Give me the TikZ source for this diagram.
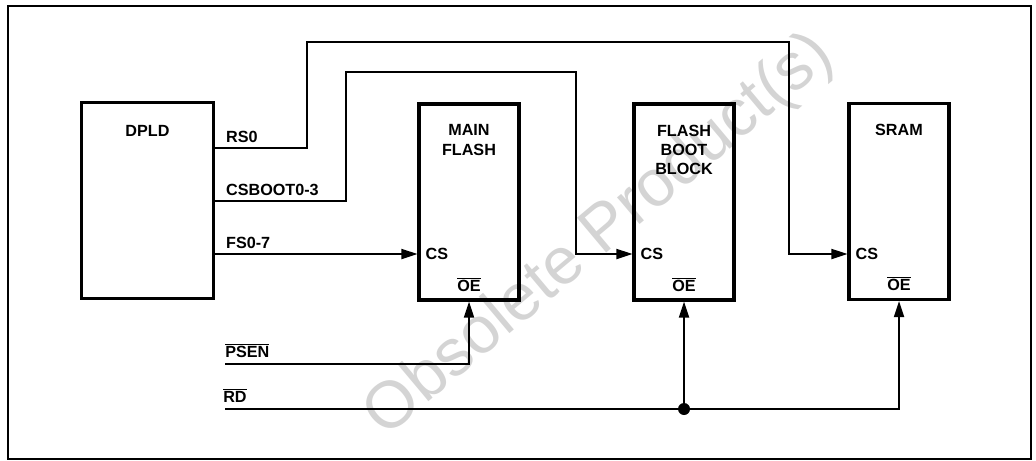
\documentclass[tikz,border=0pt]{standalone}
\usepackage{fontspec}
\setmainfont{Liberation Sans}
\usepackage{tikz}
\usetikzlibrary{arrows.meta, positioning, calc}
\definecolor{markgray}{RGB}{212, 212, 212}

\begin{document}
\begin{tikzpicture}[
          x=0.025cm, y=-0.025cm,
          every node/.style={font=\fontsize{11.5}{13.8}\selectfont\bfseries},
          chipbox/.style={rectangle, draw=black, line width=2.2pt, minimum width=2.5cm, minimum height=4.9cm, inner sep=0pt},
          chiptitle/.style={inner sep=0pt, align=center},
          pinlabel/.style={inner sep=0pt},
          wire/.style={line width=1.3pt},
          arrowwire/.style={wire, -{Triangle[length=0.4cm, width=0.25cm]}},
          watermark/.style={font=\fontsize{47}{47}\selectfont, text=markgray, rotate=40, inner sep=0pt}
        ]
          \useasboundingbox (0,0) rectangle (1036,460);

          % Watermark
          \node[watermark] (wm) at (600,236) {Obsolete Product(s)};

          % Frame
          \draw[line width=0.9pt] (8,6) rectangle (1031,459);

          % Chips
          \node[chipbox, minimum width=3.28cm, minimum height=4.88cm] (dpld) at (147.5,200.5) {};
          \node[chipbox] (mainflash) at (469,202) {};
          \node[chipbox] (bootblock) at (684,202) {};
          \node[chipbox] (sram) at (899,201.5) {};

          \node[chiptitle, below=0.6cm of dpld.north] (dpldtitle) {DPLD};
          \node[chiptitle, below=0.55cm of mainflash.north] (mftitle) {MAIN\\FLASH};
          \node[chiptitle, below=0.55cm of bootblock.north] (bbtitle) {FLASH\\BOOT\\BLOCK};
          \node[chiptitle, below=0.55cm of sram.north] (srtitle) {SRAM};

          % Pins
          \coordinate (rs0) at (dpld.east |- 0,148);
          \coordinate (csboot) at (dpld.east |- 0,201);
          \coordinate (fs) at (dpld.east |- 0,254);
          \coordinate (mfcs) at (mainflash.west |- 0,254);
          \coordinate (bbcs) at (bootblock.west |- 0,254);
          \coordinate (srcs) at (sram.west |- 0,254);
          \coordinate (psen) at (225,364);
          \coordinate (rd) at (225,409);
          \coordinate (rdjoin) at (bootblock.south |- rd);

          \node[pinlabel, above right=0.12cm and 0.28cm of rs0] (rs0label) {RS0};
          \node[pinlabel, above right=0.12cm and 0.28cm of csboot] (csbootlabel) {CSBOOT0-3};
          \node[pinlabel, above right=0.12cm and 0.28cm of fs] (fslabel) {FS0-7};
          \node[pinlabel, right=0.2cm of mfcs] (mfcslabel) {CS};
          \node[pinlabel, right=0.2cm of bbcs] (bbcslabel) {CS};
          \node[pinlabel, right=0.2cm of srcs] (srcslabel) {CS};
          \node[pinlabel, above=0.25cm of mainflash.south] (mfoe) {$\overline{\mbox{OE}}$};
          \node[pinlabel, above=0.25cm of bootblock.south] (bboe) {$\overline{\mbox{OE}}$};
          \node[pinlabel, above=0.25cm of sram.south] (sroe) {$\overline{\mbox{OE}}$};
          \node[pinlabel, above right=0.15cm and 0cm of psen] (psenlabel) {$\overline{\mbox{PSEN}}$};
          \node[pinlabel, above right=0.15cm and -0.05cm of rd] (rdlabel) {$\overline{\mbox{RD}}$};

          % Connections
          \draw[arrowwire] (rs0) -- (307,148) -- (307,42) -- (789,42) -- (789,254) -- (srcs);
          \draw[arrowwire] (csboot) -- (346,201) -- (346,72) -- (576,72) -- (576,254) -- (bbcs);
          \draw[arrowwire] (fs) -- (mfcs);
          \draw[arrowwire] (psen) -| (mainflash.south);
          \draw[arrowwire] (rd) -| (sram.south);
          \draw[arrowwire] (rdjoin) -- (bootblock.south);
          \fill (rdjoin) circle (6);
        \end{tikzpicture}
\end{document}
